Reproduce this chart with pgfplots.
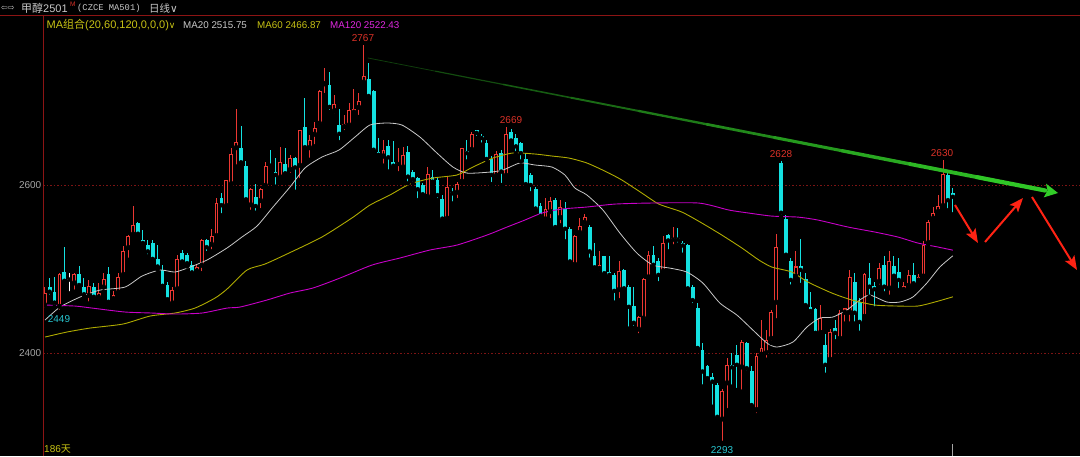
\documentclass[border=0pt]{standalone}
\usepackage{pgfplots}
\pgfplotsset{compat=1.18}
\usepackage{pgfplotstable}
\usepackage{fontspec}
\setmainfont{Liberation Sans}
\newfontfamily\cjk{Noto Sans CJK SC}
\newfontfamily\djv{DejaVu Sans}
\newfontfamily\mono{Liberation Mono}
\usetikzlibrary{arrows.meta}
\definecolor{cRed}{RGB}{235,55,50}
\definecolor{cCyan}{RGB}{20,225,225}
\definecolor{ma20}{RGB}{200,200,200}
\definecolor{ma60}{RGB}{175,170,0}
\definecolor{ma120}{RGB}{200,0,200}
\definecolor{gridRed}{RGB}{125,20,20}
\definecolor{frameRed}{RGB}{140,20,20}
\definecolor{tickGrey}{RGB}{165,165,165}
\definecolor{hdrGrey}{RGB}{200,200,200}
\definecolor{lblRed}{RGB}{220,50,40}
\definecolor{lblCyan}{RGB}{40,200,210}
\definecolor{yel}{RGB}{200,195,20}
\definecolor{mag}{RGB}{225,40,225}
\definecolor{gBright}{RGB}{50,205,40}
\definecolor{cArrow}{RGB}{255,35,20}

\pgfplotstableread{
i O H L C
0 2457 2479 2452 2471
1 2479 2489 2467 2473
2 2473 2491 2455 2460
3 2455 2495 2449 2494
4 2496 2526 2485 2486
5 2488 2495 2471 2488
6 2483 2495 2473 2494
7 2494 2503 2477 2481
8 2478 2489 2467 2470
9 2468 2487 2459 2480
10 2478 2483 2465 2467
11 2466 2483 2465 2472
12 2478 2495 2473 2488
13 2494 2502 2460 2461
14 2464 2474 2461 2469
15 2472 2495 2471 2490
16 2493 2527 2492 2521
17 2525 2540 2511 2539
18 2541 2575 2540 2552
19 2555 2556 2539 2542
20 2535 2546 2530 2531
21 2529 2535 2515 2521
22 2531 2534 2511 2512
23 2512 2529 2499 2503
24 2499 2505 2479 2480
25 2481 2484 2463 2464
26 2459 2479 2458 2475
27 2476 2517 2475 2512
28 2519 2523 2507 2509
29 2517 2519 2503 2507
30 2505 2509 2493 2496
31 2497 2505 2495 2502
32 2504 2536 2495 2535
33 2535 2536 2519 2526
34 2529 2548 2521 2539
35 2539 2584 2538 2578
36 2585 2590 2564 2576
37 2575 2606 2574 2606
38 2601 2644 2600 2637
39 2644 2690 2622 2651
40 2644 2670 2626 2627
41 2623 2628 2582 2583
42 2576 2596 2568 2595
43 2586 2601 2567 2575
44 2581 2596 2570 2595
45 2599 2627 2598 2623
46 2625 2642 2622 2623
47 2615 2632 2598 2612
48 2609 2645 2608 2627
49 2625 2644 2610 2614
50 2618 2636 2612 2632
51 2632 2633 2592 2621
52 2623 2665 2606 2665
53 2669 2703 2644 2645
54 2644 2660 2630 2654
55 2660 2675 2646 2668
56 2673 2713 2671 2712
57 2720 2739 2707 2723
58 2719 2734 2687 2693
59 2688 2707 2683 2696
60 2671 2691 2651 2661
61 2669 2683 2663 2673
62 2671 2698 2670 2689
63 2686 2714 2685 2690
64 2692 2710 2681 2700
65 2722 2767 2721 2730
66 2726 2745 2704 2706
67 2712 2713 2640 2642
68 2639 2656 2632 2636
69 2634 2654 2623 2642
70 2646 2654 2616 2633
71 2627 2652 2621 2623
72 2625 2644 2614 2626
73 2621 2645 2619 2636
74 2639 2646 2602 2610
75 2615 2618 2602 2607
76 2608 2610 2582 2595
77 2600 2602 2588 2589
78 2586 2622 2585 2613
79 2609 2618 2600 2604
80 2606 2610 2582 2588
81 2583 2588 2558 2560
82 2560 2611 2558 2598
83 2592 2596 2578 2590
84 2591 2604 2582 2601
85 2604 2644 2602 2644
86 2641 2654 2628 2638
87 2642 2663 2641 2661
88 2665 2666 2656 2662
89 2658 2661 2648 2656
90 2650 2653 2630 2631
91 2631 2634 2601 2612
92 2611 2641 2610 2637
93 2638 2642 2600 2616
94 2611 2669 2610 2661
95 2663 2667 2650 2653
96 2656 2661 2638 2646
97 2650 2651 2628 2638
98 2631 2638 2600 2601
99 2612 2614 2590 2600
100 2595 2598 2570 2572
101 2575 2578 2562 2563
102 2559 2584 2558 2572
103 2568 2586 2558 2581
104 2582 2584 2546 2550
105 2561 2582 2552 2574
106 2571 2580 2533 2548
107 2548 2550 2507 2509
108 2505 2540 2504 2539
109 2543 2561 2540 2551
110 2555 2566 2550 2562
111 2550 2552 2511 2521
112 2516 2531 2501 2502
113 2500 2521 2495 2505
114 2515 2516 2493 2495
115 2497 2515 2491 2493
116 2493 2495 2460 2474
117 2475 2509 2463 2498
118 2499 2500 2475 2477
119 2478 2481 2429 2455
120 2456 2479 2430 2436
121 2428 2444 2421 2443
122 2441 2489 2439 2488
123 2490 2521 2489 2517
124 2517 2527 2501 2505
125 2510 2513 2483 2493
126 2497 2539 2496 2531
127 2540 2542 2521 2534
128 2535 2550 2527 2537
129 2537 2549 2529 2535
130 2531 2533 2517 2528
131 2529 2530 2475 2477
132 2479 2481 2457 2463
133 2453 2460 2405 2406
134 2404 2412 2360 2378
135 2384 2386 2368 2370
136 2372 2376 2336 2366
137 2362 2364 2322 2324
138 2321 2357 2293 2355
139 2364 2394 2332 2386
140 2386 2400 2360 2383
141 2398 2410 2356 2386
142 2383 2415 2354 2413
143 2412 2413 2377 2382
144 2379 2384 2336 2338
145 2332 2400 2326 2397
146 2398 2439 2396 2406
147 2400 2427 2392 2415
148 2417 2451 2412 2449
149 2460 2542 2439 2526
150 2626 2628 2562 2567
151 2560 2564 2513 2517
152 2509 2513 2479 2487
153 2491 2521 2489 2503
154 2503 2536 2481 2499
155 2488 2495 2455 2457
156 2455 2473 2445 2450
157 2452 2453 2423 2424
158 2424 2457 2423 2442
159 2410 2423 2374 2386
160 2392 2429 2391 2425
161 2430 2439 2414 2424
162 2417 2451 2415 2448
163 2448 2454 2435 2453
164 2448 2499 2435 2490
165 2485 2495 2435 2448
166 2461 2465 2424 2437
167 2443 2495 2439 2494
168 2489 2507 2467 2479
169 2480 2485 2453 2476
170 2485 2507 2479 2501
171 2505 2515 2471 2479
172 2477 2522 2467 2510
173 2503 2515 2488 2492
174 2496 2513 2475 2487
175 2475 2485 2471 2480
176 2480 2499 2478 2493
177 2493 2507 2481 2483
178 2486 2494 2482 2490
179 2491 2533 2489 2529
180 2531 2558 2529 2556
181 2560 2574 2559 2567
182 2568 2588 2564 2575
183 2575 2630 2574 2613
184 2612 2614 2570 2582
185 2591 2597 2565 2586
}\candles

\pgfplotstableread{
x y
0.06 2439.2
3.12 2454.7
7.19 2466.6
11.26 2474.9
16.35 2478.5
19.82 2491.6
23.48 2498.8
26.54 2496.4
29.59 2502.3
33.06 2510.7
37.13 2525.0
40.18 2538.1
43.24 2551.1
46.50 2573.8
49.96 2597.6
53.01 2620.2
56.48 2633.3
59.94 2641.6
63.20 2657.1
66.25 2671.4
69.71 2673.8
72.77 2671.4
76.43 2657.1
79.90 2638.1
83.16 2621.4
86.01 2614.2
90.69 2615.4
93.34 2617.8
96.80 2626.2
99.86 2623.8
103.32 2621.4
105.97 2611.9
108.00 2596.4
110.45 2588.1
113.71 2570.2
117.17 2542.8
120.63 2519.0
123.89 2504.7
127.35 2501.1
130.81 2496.4
134.07 2483.3
137.53 2459.5
141.00 2445.2
144.26 2427.3
147.11 2411.9
149.15 2407.1
152.41 2413.0
155.26 2430.9
157.90 2441.6
160.55 2442.8
163.40 2451.2
166.05 2463.1
168.09 2469.0
171.55 2460.7
174.20 2460.7
176.84 2466.6
179.70 2483.3
182.34 2502.3
185 2515.75
}\maA

\pgfplotstableread{
x y
0.06 2419.0
4.54 2425.0
9.23 2429.7
15.95 2434.5
21.45 2444.0
26.54 2447.6
30.61 2453.5
34.69 2465.4
37.13 2476.1
41.20 2498.8
44.87 2505.9
49.76 2519.0
56.48 2538.1
62.57 2560.7
66.25 2576.1
70.32 2588.1
74.40 2601.2
79.08 2608.3
83.97 2611.9
87.23 2621.4
91.30 2632.1
95.38 2638.1
99.86 2636.9
103.32 2634.5
106.78 2632.1
110.45 2626.2
114.52 2615.4
117.58 2605.9
121.65 2590.4
125.11 2577.3
129.79 2567.8
133.87 2554.7
137.94 2540.4
142.02 2525.0
145.48 2510.7
148.13 2502.3
152.20 2496.4
155.46 2484.5
160.35 2471.4
164.42 2463.1
169.11 2457.1
173.79 2455.9
177.87 2455.9
181.33 2460.7
185 2466.87
}\maB

\pgfplotstableread{
x y
0.06 2457.1
6.17 2455.9
9.63 2453.5
16.35 2448.8
21.85 2447.6
26.54 2446.4
32.04 2447.6
37.13 2453.5
39.78 2454.7
45.28 2463.1
49.96 2471.4
54.65 2477.4
60.14 2489.2
66.66 2504.7
72.36 2513.1
78.47 2522.6
83.97 2528.5
90.08 2540.4
94.15 2549.9
97.82 2558.3
101.28 2566.6
105.35 2571.4
110.45 2573.8
116.15 2577.3
123.07 2578.5
133.26 2578.5
139.37 2570.2
143.44 2566.6
148.13 2563.0
153.42 2561.8
157.50 2558.3
163.61 2550.0
169.11 2544.0
173.79 2538.1
177.87 2530.9
181.94 2526.2
185 2522.43
}\maC

\pgfplotsset{
  cbar/.style n args={2}{only marks, mark=none, forget plot,
    error bars/.cd, y dir=plus, y explicit, error mark=none,
    error bar style={line width=#1, draw=#2, line cap=butt}},
}

\begin{document}
\begin{tikzpicture}[x=1pt,y=1pt]
\path[use as bounding box] (0,0) rectangle (1080,456);
\fill[black] (0,0) rectangle (1080,456);

\begin{axis}[
  at={(43pt,0pt)}, anchor=south west,
  scale only axis, width=1037pt, height=440pt,
  xmin=-0.35, xmax=210.9, ymin=2277.4, ymax=2801.2,
  axis line style={draw=none},
  xtick=\empty, ytick={2400,2600}, yticklabels={2400,2600},
  major tick length=0pt,
  ymajorgrids, grid style={draw=gridRed, line width=0.8pt, dash pattern=on 1.5pt off 2pt},
  yticklabel style={font=\fontsize{10}{12}\selectfont, text=tickGrey, inner sep=1.5pt},
]
% red (rising) candles
\addplot[cbar={1pt}{cRed}] table[x=i, y expr={\thisrow{C}>\thisrow{O} ? \thisrow{L} : nan}, y error plus expr={\thisrow{H}-\thisrow{L}}]{\candles};
\addplot[cbar={3.8pt}{cRed}] table[x=i, y expr={\thisrow{C}>\thisrow{O} ? \thisrow{O} : nan}, y error plus expr={\thisrow{C}-\thisrow{O}}]{\candles};
\addplot[cbar={1.8pt}{black}] table[x=i, y expr={\thisrow{C}-\thisrow{O}>2.4 ? \thisrow{O}+1.2 : nan}, y error plus expr={\thisrow{C}-\thisrow{O}-2.4}]{\candles};
% cyan (falling) candles
\addplot[cbar={1pt}{cCyan}] table[x=i, y expr={\thisrow{C}<\thisrow{O} ? \thisrow{L} : nan}, y error plus expr={\thisrow{H}-\thisrow{L}}]{\candles};
\addplot[cbar={3.8pt}{cCyan}] table[x=i, y expr={\thisrow{C}<\thisrow{O} ? \thisrow{C} : nan}, y error plus expr={\thisrow{O}-\thisrow{C}}]{\candles};
% flat (doji) candles
\addplot[cbar={1pt}{white}] table[x=i, y expr={\thisrow{C}==\thisrow{O} ? \thisrow{L} : nan}, y error plus expr={\thisrow{H}-\thisrow{L}}]{\candles};
\addplot[cbar={3.8pt}{white}] table[x=i, y expr={\thisrow{C}==\thisrow{O} ? \thisrow{O}-0.6 : nan}, y error plus expr={1.2}]{\candles};
% moving averages
\addplot[ma20, line width=0.8pt, smooth, tension=0.4, mark=none] table[x=x,y=y]{\maA};
\addplot[ma60, line width=0.9pt, smooth, tension=0.4, mark=none] table[x=x,y=y]{\maB};
\addplot[ma120, line width=0.9pt, smooth, tension=0.4, mark=none] table[x=x,y=y]{\maC};
\end{axis}

% frame lines
\draw[frameRed, line width=1pt] (0,440) -- (1080,440);
\draw[frameRed, line width=1pt] (43,0) -- (43,440);
\draw[tickGrey, line width=0.8pt] (952,0) -- (952,12);

% header row 1
\node[anchor=west, text=hdrGrey, inner sep=0pt] at (1,448) {\djv\fontsize{8}{8}\selectfont ⇦⇨};
\node[anchor=west, text=hdrGrey, inner sep=0pt] at (21,448) {\fontsize{11}{12}\selectfont{\cjk 甲醇}2501};
\node[anchor=west, text=lblRed, inner sep=0pt] at (70,452) {\fontsize{6.5}{7}\selectfont M};
\node[anchor=west, text=hdrGrey, inner sep=0pt] at (77,448) {\mono\fontsize{8.8}{10}\selectfont (CZCE MA501)};
\node[anchor=west, text=hdrGrey, inner sep=0pt] at (149,448) {\fontsize{10.5}{12}\selectfont{\cjk 日线}{\djv ∨}};

% header row 2
\node[anchor=west, text=yel, inner sep=0pt] at (46.5,431) {\fontsize{11}{12}\selectfont MA{\cjk 组合}(20,60,120,0,0,0){\djv\fontsize{9}{10}\selectfont ∨}};
\node[anchor=west, text=hdrGrey, inner sep=0pt] at (183,431) {\fontsize{9.8}{12}\selectfont MA20 2515.75};
\node[anchor=west, text=yel, inner sep=0pt] at (257,431) {\fontsize{9.8}{12}\selectfont MA60 2466.87};
\node[anchor=west, text=mag, inner sep=0pt] at (330,431) {\fontsize{9.8}{12}\selectfont MA120 2522.43};

% extreme labels
\node[text=lblRed, inner sep=0pt] at (363,418) {\fontsize{10}{12}\selectfont 2767};
\node[text=lblRed, inner sep=0pt] at (511,336) {\fontsize{10}{12}\selectfont 2669};
\node[text=lblRed, inner sep=0pt] at (781,302) {\fontsize{10}{12}\selectfont 2628};
\node[text=lblRed, inner sep=0pt] at (942,303) {\fontsize{10}{12}\selectfont 2630};
\node[text=lblCyan, inner sep=0pt] at (59,137) {\fontsize{10}{12}\selectfont 2449};
\node[text=lblCyan, inner sep=0pt] at (722,6) {\fontsize{10}{12}\selectfont 2293};
\node[anchor=west, text=yel, inner sep=0pt] at (44,7) {\fontsize{10}{12}\selectfont 186{\cjk 天}};

% green trend line
\foreach \k in {0,...,9}{
  \pgfmathsetmacro\xa{368+67.72*\k}
  \pgfmathsetmacro\ya{398-13.25*\k}
  \pgfmathsetmacro\xb{368+67.72*(\k+1)}
  \pgfmathsetmacro\yb{398-13.25*(\k+1)}
  \pgfmathsetmacro\w{0.8+0.38*\k}
  \pgfmathtruncatemacro\c{30+7.5*\k}
  \draw[line width=\w pt, color=gBright!\c!black, line cap=round] (\xa,\ya) -- (\xb,\yb);
}
\fill[gBright] (1058,263) -- (1046.0,272.4) -- (1047.5,265.3) -- (1043.7,258.6) -- cycle;

% red arrows
\draw[line width=2pt, cArrow, -{Stealth[length=14pt, width=11pt, inset=3pt]}] (955,251) -- (978,213);
\draw[line width=2pt, cArrow, -{Stealth[length=14pt, width=11pt, inset=3pt]}] (985,214) -- (1023,258);
\draw[line width=2pt, cArrow, -{Stealth[length=14pt, width=11pt, inset=3pt]}] (1032,259) -- (1077,186);
\end{tikzpicture}
\end{document}
